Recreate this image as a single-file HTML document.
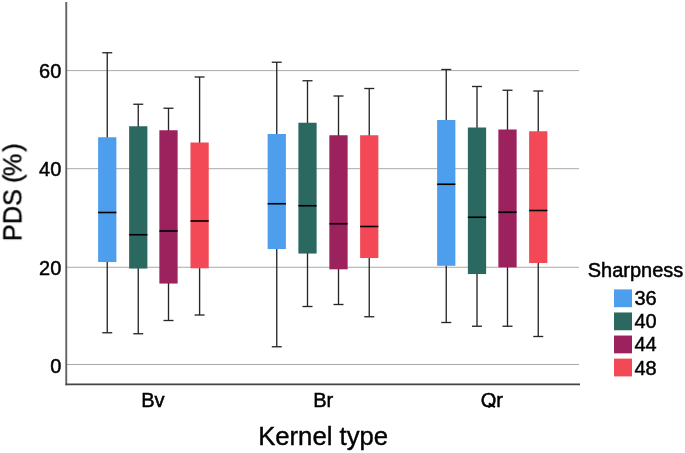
<!DOCTYPE html>
<html><head><meta charset="utf-8"><title>Boxplot</title>
<style>
html,body{margin:0;padding:0;background:#fff;}
body{width:685px;height:453px;overflow:hidden;font-family:"Liberation Sans",sans-serif;}
svg{display:block;}
text{font-family:"Liberation Sans",sans-serif;fill:#000;}
</style></head><body>
<svg width="685" height="453" viewBox="0 0 685 453">
<rect width="685" height="453" fill="#fff"/>
<defs><filter id="soft" x="0" y="0" width="685" height="453" filterUnits="userSpaceOnUse"><feGaussianBlur stdDeviation="0.45"/></filter></defs>
<g filter="url(#soft)">
<line x1="66" y1="70.6" x2="579" y2="70.6" stroke="#a9a9a9" stroke-width="1"/>
<line x1="66" y1="168.7" x2="579" y2="168.7" stroke="#a9a9a9" stroke-width="1"/>
<line x1="66" y1="267.25" x2="579" y2="267.25" stroke="#a9a9a9" stroke-width="1"/>
<line x1="66" y1="364.5" x2="579" y2="364.5" stroke="#a9a9a9" stroke-width="1"/>
<g stroke="#282828" stroke-width="1.35" fill="none"><line x1="107.25" y1="52.75" x2="107.25" y2="332.75"/><line x1="102.25" y1="52.75" x2="112.25" y2="52.75"/><line x1="102.25" y1="332.75" x2="112.25" y2="332.75"/></g>
<rect x="98.125" y="137.25" width="18.25" height="124.8" fill="#4d9eec"/>
<line x1="98.125" y1="212.5" x2="116.375" y2="212.5" stroke="#000" stroke-width="1.6"/>
<g stroke="#282828" stroke-width="1.35" fill="none"><line x1="138.25" y1="104.25" x2="138.25" y2="333.75"/><line x1="133.25" y1="104.25" x2="143.25" y2="104.25"/><line x1="133.25" y1="333.75" x2="143.25" y2="333.75"/></g>
<rect x="129.125" y="126.25" width="18.25" height="142.3" fill="#2b6860"/>
<line x1="129.125" y1="234.75" x2="147.375" y2="234.75" stroke="#000" stroke-width="1.6"/>
<g stroke="#282828" stroke-width="1.35" fill="none"><line x1="168.5" y1="108.25" x2="168.5" y2="320.5"/><line x1="163.5" y1="108.25" x2="173.5" y2="108.25"/><line x1="163.5" y1="320.5" x2="173.5" y2="320.5"/></g>
<rect x="159.375" y="130.25" width="18.25" height="153.3" fill="#9b205b"/>
<line x1="159.375" y1="231.0" x2="177.625" y2="231.0" stroke="#000" stroke-width="1.6"/>
<g stroke="#282828" stroke-width="1.35" fill="none"><line x1="199.6" y1="77.0" x2="199.6" y2="315.0"/><line x1="194.6" y1="77.0" x2="204.6" y2="77.0"/><line x1="194.6" y1="315.0" x2="204.6" y2="315.0"/></g>
<rect x="190.475" y="142.5" width="18.25" height="125.8" fill="#f34a57"/>
<line x1="190.475" y1="221.0" x2="208.725" y2="221.0" stroke="#000" stroke-width="1.6"/>
<g stroke="#282828" stroke-width="1.35" fill="none"><line x1="276.75" y1="62.25" x2="276.75" y2="346.75"/><line x1="271.75" y1="62.25" x2="281.75" y2="62.25"/><line x1="271.75" y1="346.75" x2="281.75" y2="346.75"/></g>
<rect x="267.625" y="134.0" width="18.25" height="115.05" fill="#4d9eec"/>
<line x1="267.625" y1="203.75" x2="285.875" y2="203.75" stroke="#000" stroke-width="1.6"/>
<g stroke="#282828" stroke-width="1.35" fill="none"><line x1="307.5" y1="80.75" x2="307.5" y2="306.5"/><line x1="302.5" y1="80.75" x2="312.5" y2="80.75"/><line x1="302.5" y1="306.5" x2="312.5" y2="306.5"/></g>
<rect x="298.375" y="122.75" width="18.25" height="130.8" fill="#2b6860"/>
<line x1="298.375" y1="205.75" x2="316.625" y2="205.75" stroke="#000" stroke-width="1.6"/>
<g stroke="#282828" stroke-width="1.35" fill="none"><line x1="338.5" y1="96.0" x2="338.5" y2="304.5"/><line x1="333.5" y1="96.0" x2="343.5" y2="96.0"/><line x1="333.5" y1="304.5" x2="343.5" y2="304.5"/></g>
<rect x="329.375" y="135.25" width="18.25" height="134.05" fill="#9b205b"/>
<line x1="329.375" y1="223.75" x2="347.625" y2="223.75" stroke="#000" stroke-width="1.6"/>
<g stroke="#282828" stroke-width="1.35" fill="none"><line x1="369.25" y1="88.5" x2="369.25" y2="316.75"/><line x1="364.25" y1="88.5" x2="374.25" y2="88.5"/><line x1="364.25" y1="316.75" x2="374.25" y2="316.75"/></g>
<rect x="360.125" y="135.25" width="18.25" height="122.8" fill="#f34a57"/>
<line x1="360.125" y1="226.5" x2="378.375" y2="226.5" stroke="#000" stroke-width="1.6"/>
<g stroke="#282828" stroke-width="1.35" fill="none"><line x1="446.25" y1="69.5" x2="446.25" y2="322.5"/><line x1="441.25" y1="69.5" x2="451.25" y2="69.5"/><line x1="441.25" y1="322.5" x2="451.25" y2="322.5"/></g>
<rect x="437.125" y="120.0" width="18.25" height="145.8" fill="#4d9eec"/>
<line x1="437.125" y1="184.25" x2="455.375" y2="184.25" stroke="#000" stroke-width="1.6"/>
<g stroke="#282828" stroke-width="1.35" fill="none"><line x1="477.0" y1="86.5" x2="477.0" y2="326.25"/><line x1="472.0" y1="86.5" x2="482.0" y2="86.5"/><line x1="472.0" y1="326.25" x2="482.0" y2="326.25"/></g>
<rect x="467.875" y="127.5" width="18.25" height="146.55" fill="#2b6860"/>
<line x1="467.875" y1="217.25" x2="486.125" y2="217.25" stroke="#000" stroke-width="1.6"/>
<g stroke="#282828" stroke-width="1.35" fill="none"><line x1="507.5" y1="90.25" x2="507.5" y2="326.25"/><line x1="502.5" y1="90.25" x2="512.5" y2="90.25"/><line x1="502.5" y1="326.25" x2="512.5" y2="326.25"/></g>
<rect x="498.375" y="129.5" width="18.25" height="137.8" fill="#9b205b"/>
<line x1="498.375" y1="212.25" x2="516.625" y2="212.25" stroke="#000" stroke-width="1.6"/>
<g stroke="#282828" stroke-width="1.35" fill="none"><line x1="538.25" y1="91.0" x2="538.25" y2="336.5"/><line x1="533.25" y1="91.0" x2="543.25" y2="91.0"/><line x1="533.25" y1="336.5" x2="543.25" y2="336.5"/></g>
<rect x="529.125" y="131.25" width="18.25" height="131.8" fill="#f34a57"/>
<line x1="529.125" y1="210.5" x2="547.375" y2="210.5" stroke="#000" stroke-width="1.6"/>
<line x1="66.25" y1="2" x2="66.25" y2="385.2" stroke="#636363" stroke-width="1.9"/>
<line x1="65.6" y1="384.4" x2="580" y2="384.4" stroke="#444444" stroke-width="1.6"/>
<text transform="translate(61.3,78.2) scale(0.95,1)" font-size="21" text-anchor="end" stroke="#000" stroke-width="0.5">60</text>
<text transform="translate(61.3,176.3) scale(0.95,1)" font-size="21" text-anchor="end" stroke="#000" stroke-width="0.5">40</text>
<text transform="translate(61.3,274.5) scale(0.95,1)" font-size="21" text-anchor="end" stroke="#000" stroke-width="0.5">20</text>
<text transform="translate(61.3,372.6) scale(0.95,1)" font-size="21" text-anchor="end" stroke="#000" stroke-width="0.5">0</text>
<text transform="translate(152.9,407.0) scale(0.98,1)" font-size="20.5" text-anchor="middle" stroke="#000" stroke-width="0.5">Bv</text>
<text transform="translate(323.2,407.0) scale(0.98,1)" font-size="20.5" text-anchor="middle" stroke="#000" stroke-width="0.5">Br</text>
<text transform="translate(491.8,407.0) scale(0.98,1)" font-size="20.5" text-anchor="middle" stroke="#000" stroke-width="0.5">Qr</text>
<rect x="484" y="407.75" width="14" height="5" fill="#fff"/><line x1="488.8" y1="403.4" x2="494.9" y2="407.2" stroke="#000" stroke-width="2"/>
<text transform="translate(323.1,445.1) scale(1.0,1)" font-size="25.7" text-anchor="middle" stroke="#000" stroke-width="0.4">Kernel type</text>
<text transform="translate(21.4,192.2) rotate(-90) scale(1.0,1)" font-size="25.3" text-anchor="middle" stroke="#000" stroke-width="0.4">PDS <tspan dx="-0.9">(</tspan><tspan dx="-1.6">%</tspan><tspan dx="2.0">)</tspan></text>
<text transform="translate(587.8,276.7) scale(1.02,1)" font-size="19.6" text-anchor="start" stroke="#000" stroke-width="0.5">Sharpness</text>
<rect x="614" y="289.40" width="18" height="17.8" fill="#4d9eec"/>
<text transform="translate(634.4,305.3) scale(1.0,1)" font-size="20" text-anchor="start" stroke="#000" stroke-width="0.45">36</text>
<rect x="614" y="312.47" width="18" height="17.8" fill="#2b6860"/>
<text transform="translate(634.4,328.37) scale(1.0,1)" font-size="20" text-anchor="start" stroke="#000" stroke-width="0.45">40</text>
<rect x="614" y="335.54" width="18" height="17.8" fill="#9b205b"/>
<text transform="translate(634.4,351.44) scale(1.0,1)" font-size="20" text-anchor="start" stroke="#000" stroke-width="0.45">44</text>
<rect x="614" y="358.61" width="18" height="17.8" fill="#f34a57"/>
<text transform="translate(634.4,374.51) scale(1.0,1)" font-size="20" text-anchor="start" stroke="#000" stroke-width="0.45">48</text>
</g>
</svg>
</body></html>
